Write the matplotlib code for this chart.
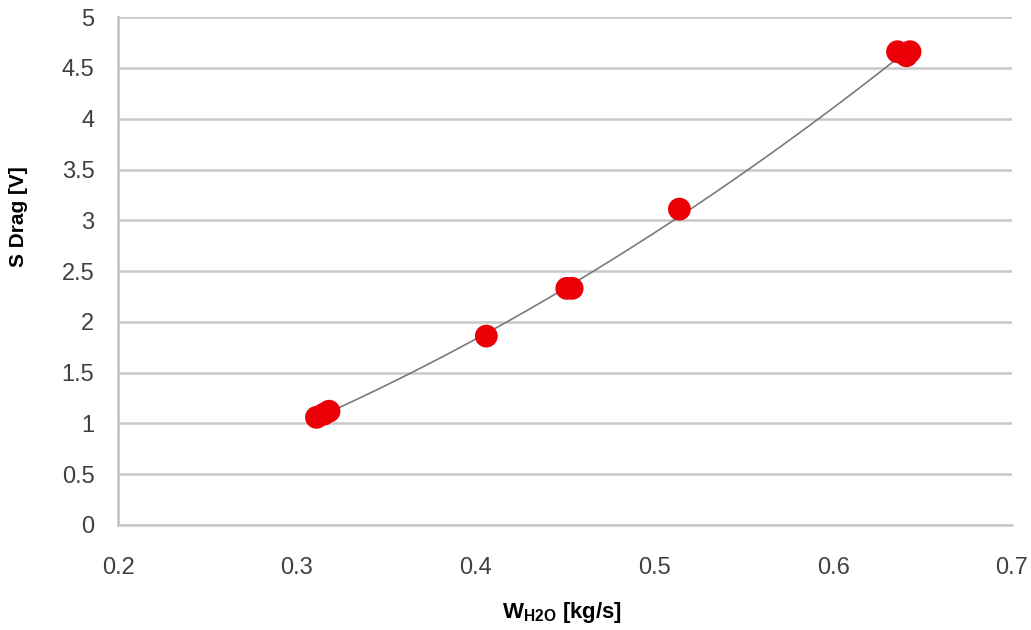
import numpy as np
import matplotlib
matplotlib.use("Agg")
import matplotlib.pyplot as plt

plt.rcParams['font.family'] = ['Liberation Sans', 'DejaVu Sans']

# Data
w_h2o = [0.311, 0.315, 0.318, 0.406, 0.451, 0.454, 0.514, 0.636, 0.641, 0.643]
s_drag = [1.06, 1.09, 1.12, 1.86, 2.33, 2.33, 3.11, 4.66, 4.62, 4.66]
x_ticks = [0.2, 0.3, 0.4, 0.5, 0.6, 0.7]
y_ticks = [0, 0.5, 1, 1.5, 2, 2.5, 3, 3.5, 4, 4.5, 5]

fig = plt.figure(figsize=(10.31, 6.30), dpi=100)
ax = fig.add_axes([0.1145, 0.1667, 0.867, 0.806])

# polynomial trendline through the points
coef = np.polyfit(w_h2o, s_drag, 2)
xs = np.linspace(min(w_h2o), max(w_h2o), 200)
ax.plot(xs, np.polyval(coef, xs), color='#7a7a7a', lw=1.2, zorder=2)

ax.scatter(w_h2o, s_drag, s=270, color='#ec0008', edgecolors='none', zorder=3)

ax.set_xlim(0.2, 0.7)
ax.set_ylim(0, 5)
ax.set_xticks(x_ticks)
ax.set_xticklabels([f'{v:g}' for v in x_ticks])
ax.set_yticks(y_ticks)
ax.set_yticklabels([f'{v:g}' for v in y_ticks])
ax.yaxis.grid(True, color='#c8c8c8', lw=1.8)
ax.set_axisbelow(True)
for s in ['top', 'right']:
    ax.spines[s].set_visible(False)
ax.spines['left'].set_color('#c0c0c0')
ax.spines['left'].set_linewidth(1.8)
ax.spines['bottom'].set_color('#c8c8c8')
ax.spines['bottom'].set_linewidth(1.8)
ax.tick_params(axis='both', length=0, labelsize=17, colors='#404040')
ax.tick_params(axis='y', pad=17)
ax.tick_params(axis='x', pad=23)

ax.set_ylabel('S Drag [V]', fontsize=15, fontweight='bold')
ax.yaxis.set_label_coords(18 / 894 * -1 * 0 - 100 / 894, (525 - 217) / 508)
ax.set_xlabel(r'W$_{\mathregular{H2O}}$ [kg/s]', fontsize=16, fontweight='bold')
ax.xaxis.set_label_coords((562 - 118) / 894, -(613 - 525) / 508)
ax.xaxis.label.set_va('center')
ax.yaxis.label.set_va('center')

fig.savefig('out.png', dpi=100)
